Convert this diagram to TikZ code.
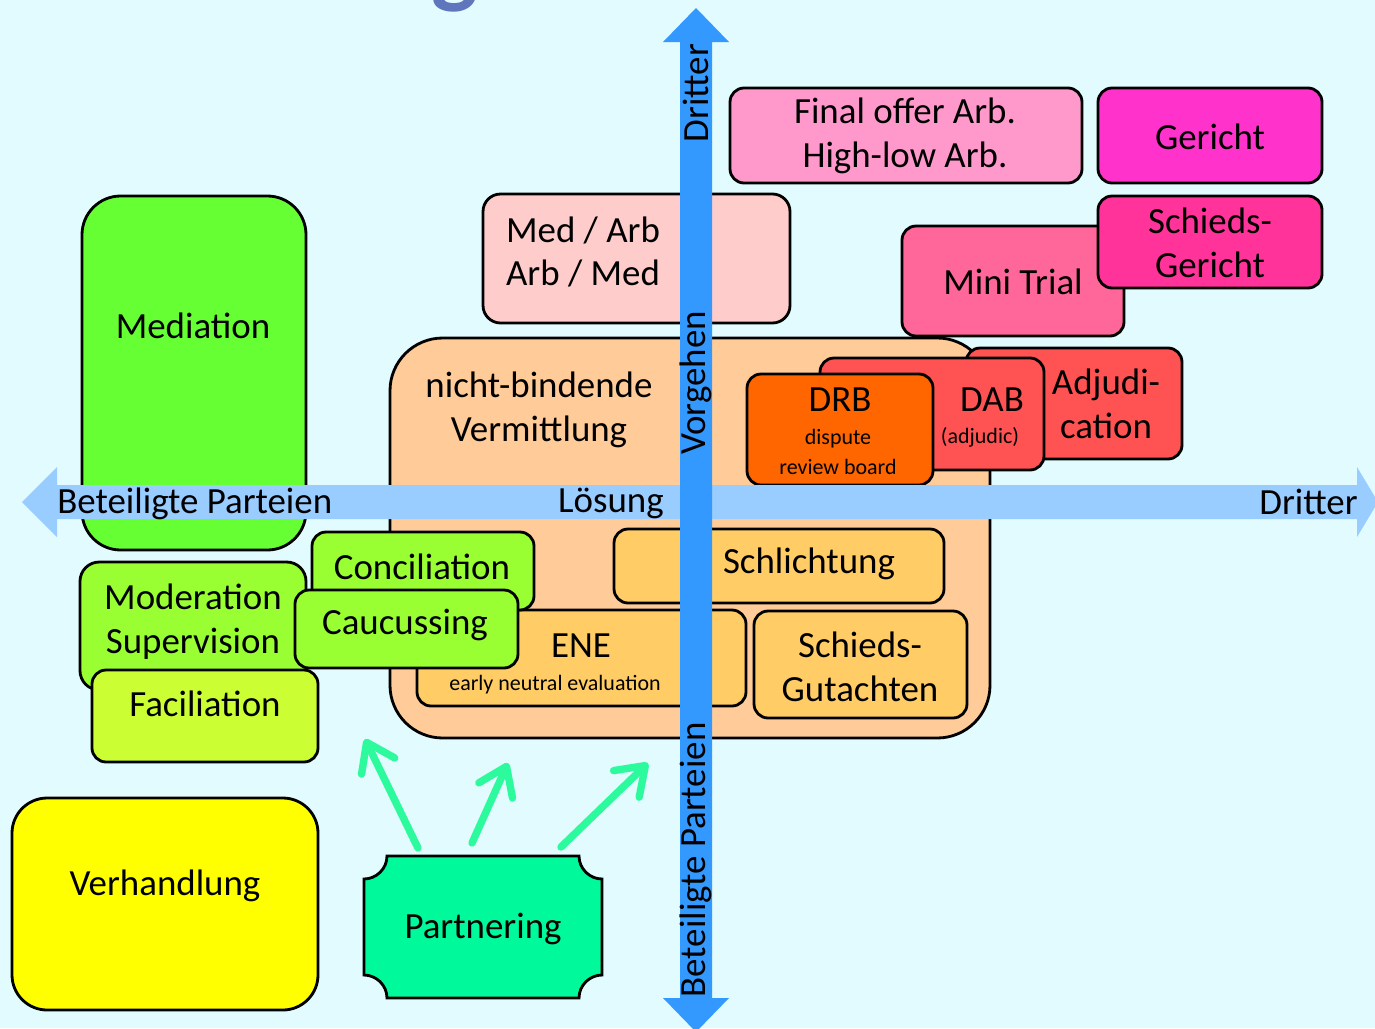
\documentclass[tikz,border=0pt]{standalone}
\usepackage{fontspec}
\setmainfont{Carlito}
\usepackage{tikz}
\usetikzlibrary{arrows.meta}
\definecolor{bgcyan}{HTML}{E1FBFF}
\definecolor{axislight}{HTML}{99CCFF}
\definecolor{axisdark}{HTML}{3399FF}
\definecolor{titleblue}{HTML}{5F75BC}
\definecolor{medgreen}{HTML}{66FF33}
\definecolor{modgreen}{HTML}{99FF33}
\definecolor{facgreen}{HTML}{CCFF33}
\definecolor{verhyellow}{HTML}{FFFF00}
\definecolor{partgreen}{HTML}{00F99A}
\definecolor{partarrow}{HTML}{2CFA9C}
\definecolor{vermorange}{HTML}{FFCC99}
\definecolor{schlorange}{HTML}{FFCC66}
\definecolor{medarbpink}{HTML}{FFCCCC}
\definecolor{offerpink}{HTML}{FF99CC}
\definecolor{gerichtpink}{HTML}{FF33CC}
\definecolor{minipink}{HTML}{FF6699}
\definecolor{schiedspink}{HTML}{FF3399}
\definecolor{adjred}{HTML}{FF5252}
\definecolor{drborange}{HTML}{FF6600}
\tikzset{
    box/.style={draw=black, line width=1.6pt, rounded corners=8pt},
    bigbox/.style={draw=black, line width=1.6pt, rounded corners=22pt},
    lbl/.style={font=\fontsize{21}{25}\selectfont, align=center, inner sep=0pt},
    smalllbl/.style={font=\fontsize{12.5}{17}\selectfont, align=center, inner sep=0pt},
    axislbl/.style={font=\fontsize{21}{25}\selectfont, inner sep=0pt},
    partarrowline/.style={draw=partarrow, line width=4.2pt, line cap=round,
        -{Straight Barb[length=15pt, width=21pt, round]}}
}
\begin{document}
\begin{tikzpicture}[x={(0.02cm,0)}, y={(0,-0.02cm)}]
\useasboundingbox (0,0) rectangle (1375,1028);
\fill[bgcyan] (0,0) rectangle (1375,1028);
% title cut off at the top
\node[anchor=base, text=titleblue, font=\fontsize{56}{60}\selectfont\bfseries, inner sep=0pt] (title) at (455,-5) {g};

% left side: Beteiligte Parteien
\draw[style={bigbox}, fill=medgreen] (82,196) rectangle (306,550);
\node[lbl] (mediation) at (193,326) {Mediation};
\draw[style={box}, rounded corners=11pt, fill=modgreen] (80,562) rectangle (306,690);
\node[lbl] (moderation) at (193,622) {Moderation\\Supervision};
\draw[style={box}, fill=facgreen] (92,670) rectangle (318,762);
\node[lbl] (faciliation) at (205,704) {Faciliation};

% nicht-bindende Vermittlung
\draw[style={box}, rounded corners=30pt, fill=vermorange] (390,338) rectangle (990,738);
\node[lbl] (vermittlung) at (539,410) {nicht-bindende\\Vermittlung};
\draw[style={box}, fill=schlorange] (614,529) rectangle (944,603);
\node[lbl] (schlichtung) at (809,564) {Schlichtung};
\draw[style={box}, fill=schlorange] (417,610) rectangle (746,706);
\node[lbl] (ene) at (581,646) {ENE};
\node[smalllbl] (enetext) at (555,685) {early neutral evaluation};
\draw[style={box}, fill=schlorange] (754,611) rectangle (967,718);
\node[lbl] (gutachten) at (860,667) {Schieds-\\Gutachten};
\draw[style={box}, fill=modgreen] (312,532) rectangle (534,610);
\node[lbl] (conciliation) at (422,567) {Conciliation};
\draw[style={box}, fill=modgreen] (295,590) rectangle (518,668);
\node[lbl] (caucussing) at (405,625) {Caucussing};

% upper right: Dritter
\draw[style={box}, rounded corners=10pt, fill=medarbpink] (483,194) rectangle (790,323);
\node[lbl] (medarb) at (583,252) {Med / Arb\\Arb / Med};
\draw[style={box}, fill=offerpink] (730,88) rectangle (1082,183);
\node[lbl] (finaloffer) at (905,136) {Final offer Arb.\\High-low Arb.};
\draw[style={box}, fill=gerichtpink] (1098,88) rectangle (1322,183);
\node[lbl] (gericht) at (1210,137) {Gericht};
\draw[style={box}, fill=minipink] (902,226) rectangle (1124,336);
\node[lbl] (minitrial) at (1013,282) {Mini Trial};
\draw[style={box}, fill=schiedspink] (1098,196) rectangle (1322,288);
\node[lbl] (schiedsgericht) at (1210,243) {Schieds-\\Gericht};
\draw[style={box}, fill=adjred] (966,348) rectangle (1182,459);
\node[lbl] (adjudication) at (1106,404) {Adjudi-\\cation};
\draw[style={box}, fill=adjred] (820,358) rectangle (1044,470);
\node[lbl] (dab) at (992,400) {DAB};
\node[smalllbl] (dabtext) at (980,437) {(adjudic)};
\draw[style={box}, fill=drborange] (747,374) rectangle (933,485);
\node[lbl] (drb) at (840,400) {DRB};
\node[smalllbl] (drbtext) at (838,452) {dispute\\review board};

% axes
\fill[axislight] (22,502) -- (57,467) -- (57,485) -- (1357,485) -- (1357,467) -- (1378,502)
    -- (1357,537) -- (1357,519) -- (57,519) -- (57,537) -- cycle;
\node[axislbl, anchor=west] (leftparteien) at (57,504) {Beteiligte Parteien};
\node[axislbl] (loesung) at (611,503) {Lösung};
\node[axislbl, anchor=east] (rightdritter) at (1358,502) {Dritter};
\fill[axisdark] (696,8) -- (729,42) -- (712,42) -- (712,998) -- (729,998) -- (696,1032)
    -- (663,998) -- (680,998) -- (680,42) -- (663,42) -- cycle;
\node[axislbl, rotate=90] (topdritter) at (696,93) {Dritter};
\node[axislbl, rotate=90] (vorgehen) at (696,383) {Vorgehen};
\node[axislbl, rotate=90] (bottomparteien) at (696,860) {Beteiligte Parteien};

% bottom
\draw[style={box}, rounded corners=20pt, fill=verhyellow] (12,798) rectangle (318,1010);
\node[lbl] (verhandlung) at (165,886) {Verhandlung};
\draw[draw=black, line width=1.6pt, fill=partgreen] (387,856) -- (579,856)
    .. controls (579,869) and (590,879) .. (602,879) -- (602,975)
    .. controls (590,975) and (579,985) .. (579,998) -- (387,998)
    .. controls (387,985) and (376,975) .. (364,975) -- (364,879)
    .. controls (376,879) and (387,869) .. (387,856) -- cycle;
\node[lbl] (partnering) at (483,929) {Partnering};
\coordinate (pstartA) at (418,848);
\coordinate (pstartB) at (472,843);
\coordinate (pstartC) at (561,847);
\coordinate (pendA) at (365,739);
\coordinate (pendB) at (508,763);
\coordinate (pendC) at (648,763);
\draw[style={partarrowline}] (pstartA) -- (pendA);
\draw[style={partarrowline}] (pstartB) -- (pendB);
\draw[style={partarrowline}] (pstartC) -- (pendC);
\end{tikzpicture}
\end{document}
